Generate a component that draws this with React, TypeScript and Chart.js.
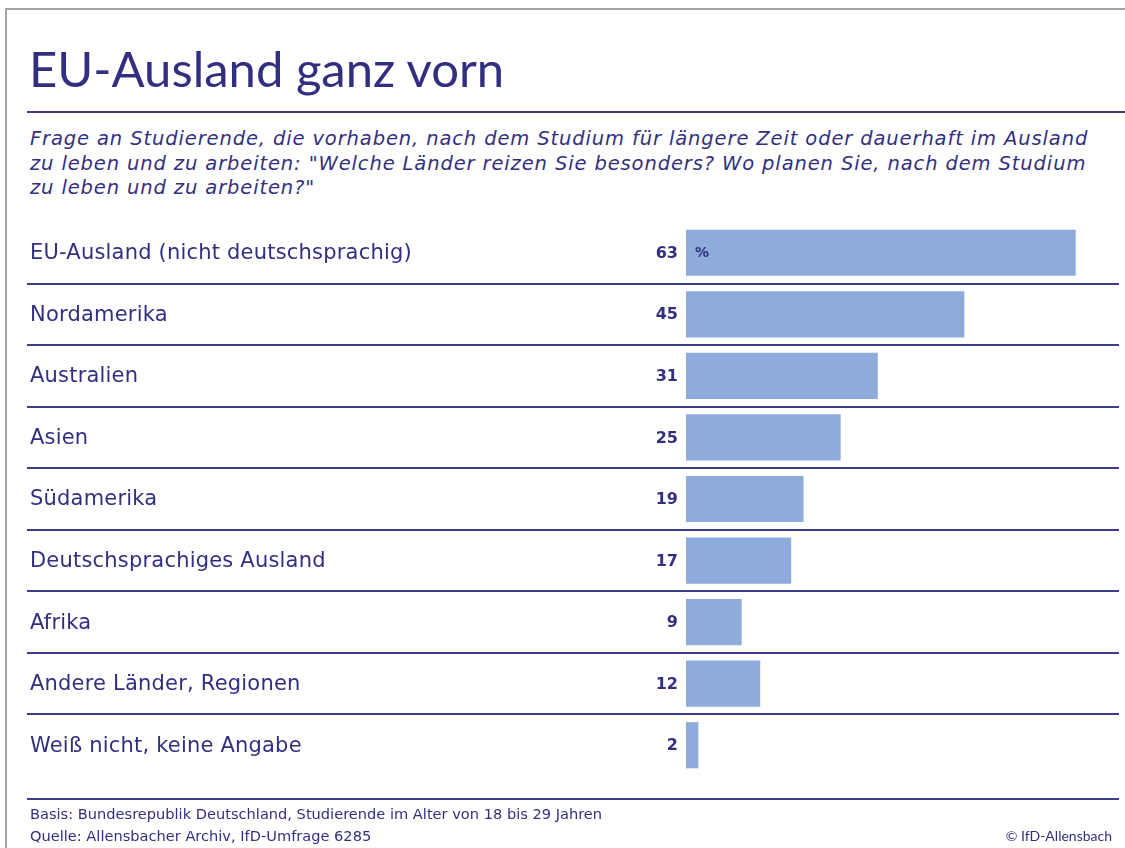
import React, { useEffect, useRef } from "react";
import { Chart, registerables } from "chart.js";

Chart.register(...registerables);

const categories = [
  "EU-Ausland (nicht deutschsprachig)",
  "Nordamerika",
  "Australien",
  "Asien",
  "Südamerika",
  "Deutschsprachiges Ausland",
  "Afrika",
  "Andere Länder, Regionen",
  "Weiß nicht, keine Angabe",
];
const values = [63, 45, 31, 25, 19, 17, 9, 12, 2];
const unitLabel = "%";
const titleText = "EU-Ausland ganz vorn";
const subtitleLines = [
  "Frage an Studierende, die vorhaben, nach dem Studium für längere Zeit oder dauerhaft im Ausland",
  "zu leben und zu arbeiten: \"Welche Länder reizen Sie besonders? Wo planen Sie, nach dem Studium",
  "zu leben und zu arbeiten?\"",
];
const footerLines = [
  "Basis: Bundesrepublik Deutschland, Studierende im Alter von 18 bis 29 Jahren",
  "Quelle: Allensbacher Archiv, IfD-Umfrage 6285",
];
const creditText = "© IfD-Allensbach";

const TEXT = "#332f80";
const LINE = "#3e3a8c";
const BAR = "#8eabdb";
const TITLE_FONT = "Lato, 'Open Sans', sans-serif";
const FONT = "'DejaVu Sans', Lato, sans-serif";

const rowPlugin = {
  id: "rowDecor",
  afterDatasetsDraw(chart: any) {
    const { ctx, chartArea, scales } = chart;
    const ys = scales.y;
    const xs = scales.x;
    const n = categories.length;
    const h = (chartArea.bottom - chartArea.top) / n;
    ctx.save();
    ctx.strokeStyle = LINE;
    ctx.lineWidth = 2;
    for (let i = 1; i < n; i++) {
      const yy = Math.round(chartArea.top + i * h);
      ctx.beginPath();
      ctx.moveTo(27, yy);
      ctx.lineTo(chartArea.right, yy);
      ctx.stroke();
    }
    ctx.fillStyle = TEXT;
    ctx.textBaseline = "middle";
    ctx.font = `21px ${FONT}`;
    try { (ctx as any).letterSpacing = "0.2px"; } catch (e) {}
    ctx.textAlign = "left";
    categories.forEach((c, i) => ctx.fillText(c, 30, ys.getPixelForValue(i) + 1));
    try { (ctx as any).letterSpacing = "0px"; } catch (e) {}
    ctx.font = `bold 16px ${FONT}`;
    ctx.textAlign = "right";
    values.forEach((v, i) => ctx.fillText(String(v), xs.left - 8, ys.getPixelForValue(i) + 1));
    ctx.textAlign = "left";
    ctx.font = `bold 14px ${FONT}`;
    ctx.fillText(unitLabel, xs.left + 9, ys.getPixelForValue(0) + 1);
    ctx.restore();
  },
};

export default function App() {
  const ref = useRef<HTMLCanvasElement | null>(null);
  useEffect(() => {
    if (!ref.current) return;
    const chart = new Chart(ref.current, {
      type: "bar",
      data: {
        labels: categories,
        datasets: [
          {
            data: values,
            backgroundColor: BAR,
            borderWidth: 0,
            barPercentage: 0.75,
            categoryPercentage: 1,
          },
        ],
      },
      options: {
        indexAxis: "y",
        responsive: false,
        animation: false,
        layout: { padding: { left: 686, right: 6, top: 222, bottom: 72 } },
        scales: {
          x: { display: false, min: 0, max: 70 },
          y: { display: false },
        },
        plugins: { legend: { display: false }, tooltip: { enabled: false } },
      },
      plugins: [rowPlugin],
    });
    return () => chart.destroy();
  }, []);

  const abs = (s: React.CSSProperties): React.CSSProperties => ({ position: "absolute", margin: 0, ...s });

  return (
    <div style={{ position: "absolute", left: 0, top: 0, width: 1125, height: 848, background: "#fff", overflow: "hidden", fontFamily: FONT, color: TEXT }}>
      <div style={abs({ left: 5, top: 8, width: 1120, height: 840, borderTop: "2px solid #a3a3a3", borderLeft: "2px solid #a3a3a3", boxSizing: "border-box" })} />
      <div style={abs({ left: 29, top: 40, fontFamily: TITLE_FONT, fontSize: 49, lineHeight: "56px", fontWeight: 400, whiteSpace: "nowrap" })}>{titleText}</div>
      <div style={abs({ left: 27, top: 111, width: 1098, height: 2, background: LINE })} />
      <div style={abs({ left: 30, top: 127, fontSize: 19.5, lineHeight: "24.5px", fontStyle: "italic", letterSpacing: "0.88px", whiteSpace: "pre" })}>
        {subtitleLines.map((l, i) => (
          <div key={i}>{l}</div>
        ))}
      </div>
      <canvas ref={ref} width={1125} height={848} style={{ position: "absolute", left: 0, top: 0 }} />
      <div style={abs({ left: 27, top: 798, width: 1092, height: 2, background: LINE })} />
      <div style={abs({ left: 30, top: 803, fontSize: 14.6, lineHeight: "22px", whiteSpace: "pre" })}>
        {footerLines.map((l, i) => (
          <div key={i}>{l}</div>
        ))}
      </div>
      <div style={abs({ right: 13, top: 825, fontFamily: TITLE_FONT, fontSize: 14, lineHeight: "22px", whiteSpace: "pre" })}>{creditText}</div>
    </div>
  );
}
